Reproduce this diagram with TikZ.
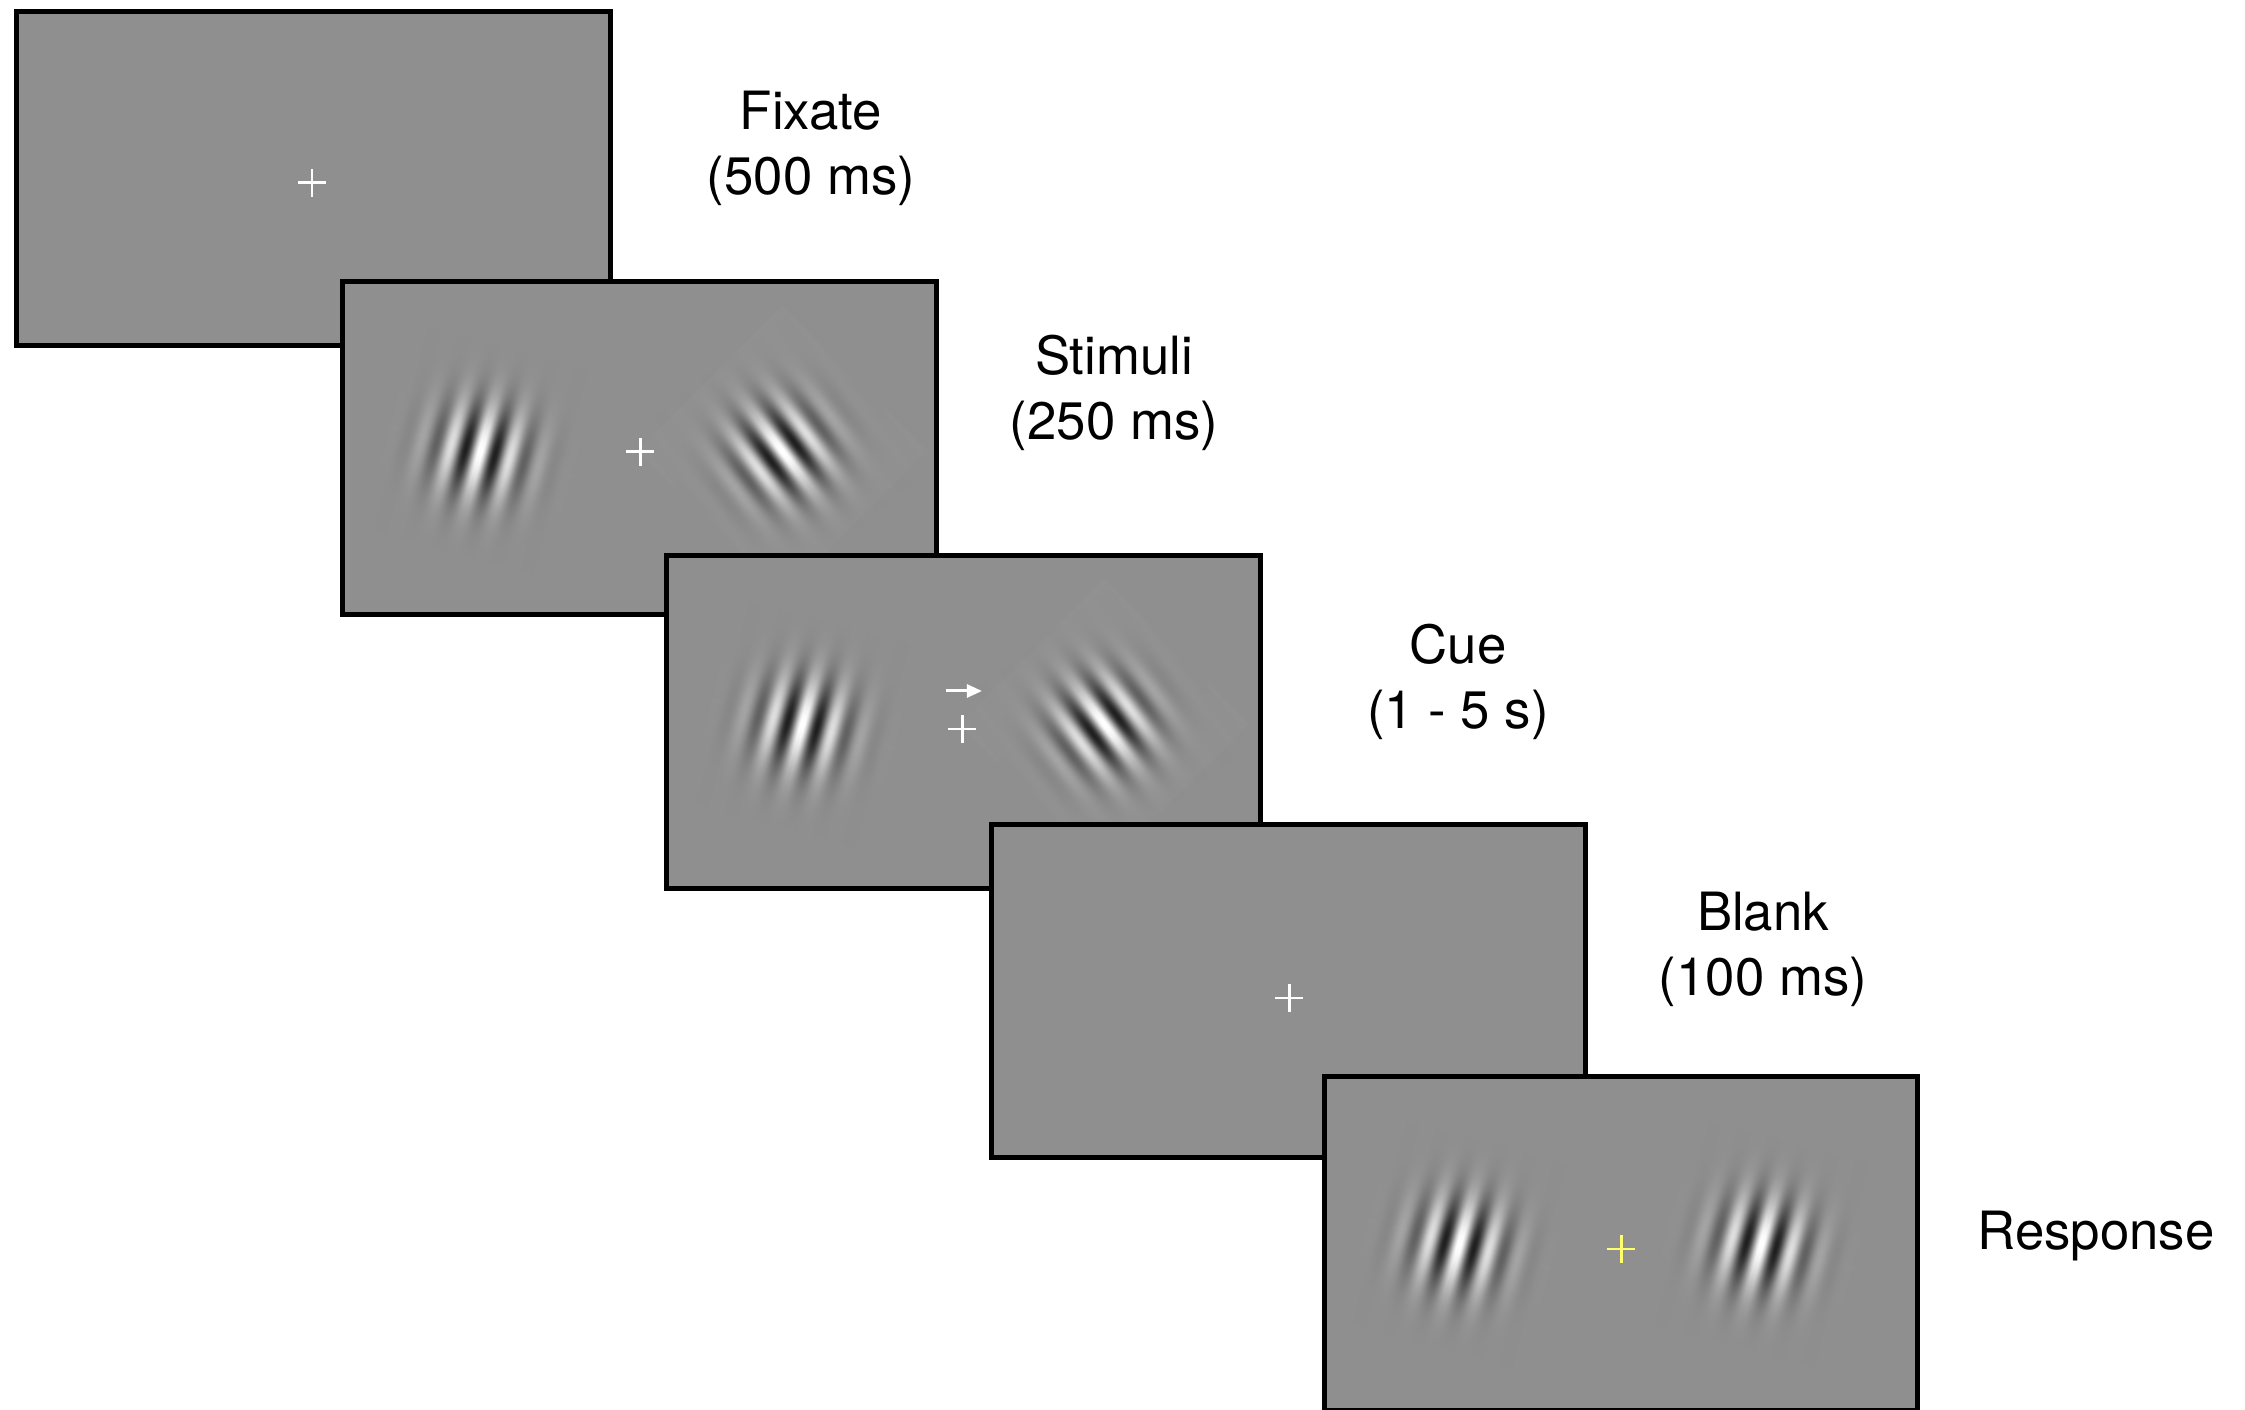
\documentclass[tikz,border=0pt]{standalone}
\usepackage{fontspec}
\setmainfont{TeX Gyre Heros}
\usetikzlibrary{arrows.meta,fadings}

\definecolor{screen}{gray}{0.561}
\definecolor{patchgray}{gray}{0.568}
\definecolor{cueyellow}{RGB}{255,255,110}

% gabor profile across the bars (cosine times gaussian) and its envelope along them
\def\gaborstops{gray(0bp)=(0.561)}
\def\envstops{gray(0bp)=(0)}
\foreach \i in {40,...,160}{%
  \pgfmathsetmacro\u{\i/2}%
  \pgfmathsetmacro\t{(\u-50)/7.5}%
  \pgfmathsetmacro\g{max(0,min(1,0.561+0.5*cos((\u-50)*50.09)*exp(-0.5*(\t)*(\t))))}%
  \pgfmathsetmacro\e{exp(-0.5*(\t)*(\t))}%
  \xdef\gaborstops{\gaborstops; gray(\u bp)=(\g)}%
  \xdef\envstops{\envstops; gray(\u bp)=(\e)}%
}
\xdef\gaborstops{\gaborstops; gray(100bp)=(0.561)}
\xdef\envstops{\envstops; gray(100bp)=(0)}
\edef\tmp{\noexpand\pgfdeclarehorizontalshading{gabor}{100bp}{\gaborstops}}\tmp
\edef\tmp{\noexpand\pgfdeclareverticalshading{gaborenv}{100bp}{\envstops}}\tmp
\pgfdeclarefading{gaborfade}{\pgfuseshading{gaborenv}}

\tikzset{
  panel/.style={draw=black,line width=1.42pt,fill=screen,inner sep=0pt,
    minimum width=5.93cm,minimum height=3.33cm},
  fix/.style={white,line width=0.85pt},
  fixcross/.pic={\draw (-14,0) -- (14,0) (0,-14) -- (0,14);},
  gaborpatch/.style={shading=gabor,path fading=gaborfade},
  timing/.style={align=center,inner sep=0pt,font=\fontsize{15}{18.5}\selectfont}
}

\begin{document}
\begin{tikzpicture}[x=0.01cm,y=-0.01cm]
\clip (0,0) rectangle (2245,1410);

% fixation
\node[panel] (s1) at (313.5,178.5) {};
\pic[fix] at (312,183) {fixcross};
\node[timing] (t1) at (811,148) {Fixate\\(500 ms)};

% stimuli
\node[panel] (s2) at (639.5,448) {};
\coordinate (g2l) at (480,451);
\coordinate (g2r) at (782,451);
\fill[patchgray,shift={(g2r)}] (0,-145) -- (145,0) -- (0,145) -- (-145,0) -- cycle;
\begin{scope}[transform canvas={rotate around={-15:(g2l)}}]
  \shade[gaborpatch,shift={(g2l)}] (-106,-106) rectangle (106,106);
\end{scope}
\begin{scope}[transform canvas={rotate around={37:(g2r)}}]
  \shade[gaborpatch,shift={(g2r)}] (-106,-106) rectangle (106,106);
\end{scope}
\pic[fix] at (640,452) {fixcross};
\node[timing] (t2) at (1114,393) {Stimuli\\(250 ms)};

% cue
\node[panel] (s3) at (963.5,722) {};
\coordinate (g3l) at (802,724);
\coordinate (g3r) at (1104,724);
\fill[patchgray,shift={(g3r)}] (0,-145) -- (145,0) -- (0,145) -- (-145,0) -- cycle;
\begin{scope}[transform canvas={rotate around={-15:(g3l)}}]
  \shade[gaborpatch,shift={(g3l)}] (-106,-106) rectangle (106,106);
\end{scope}
\begin{scope}[transform canvas={rotate around={37:(g3r)}}]
  \shade[gaborpatch,shift={(g3r)}] (-106,-106) rectangle (106,106);
\end{scope}
\coordinate (c0) at (946,691);
\coordinate (c1) at (982,691);
\draw[fix,-{Triangle[length=4.3pt,width=3.7pt]}] (c0) -- (c1);
\pic[fix] at (962,729) {fixcross};
\node[timing] (t3) at (1458,682) {Cue\\(1 - 5 s)};

% blank
\node[panel] (s4) at (1288.5,991) {};
\pic[fix] at (1289,998) {fixcross};
\node[timing] (t4) at (1763,949) {Blank\\(100 ms)};

% response
\node[panel] (s5) at (1621,1243.5) {};
\coordinate (g5l) at (1459,1244);
\coordinate (g5r) at (1761,1244);
\begin{scope}[transform canvas={rotate around={-15:(g5l)}}]
  \shade[gaborpatch,shift={(g5l)}] (-106,-106) rectangle (106,106);
\end{scope}
\begin{scope}[transform canvas={rotate around={-15:(g5r)}}]
  \shade[gaborpatch,shift={(g5r)}] (-106,-106) rectangle (106,106);
\end{scope}
\pic[cueyellow,line width=0.85pt] at (1621,1249) {fixcross};
\node[timing] (t5) at (2096,1236) {Response};
\end{tikzpicture}
\end{document}
